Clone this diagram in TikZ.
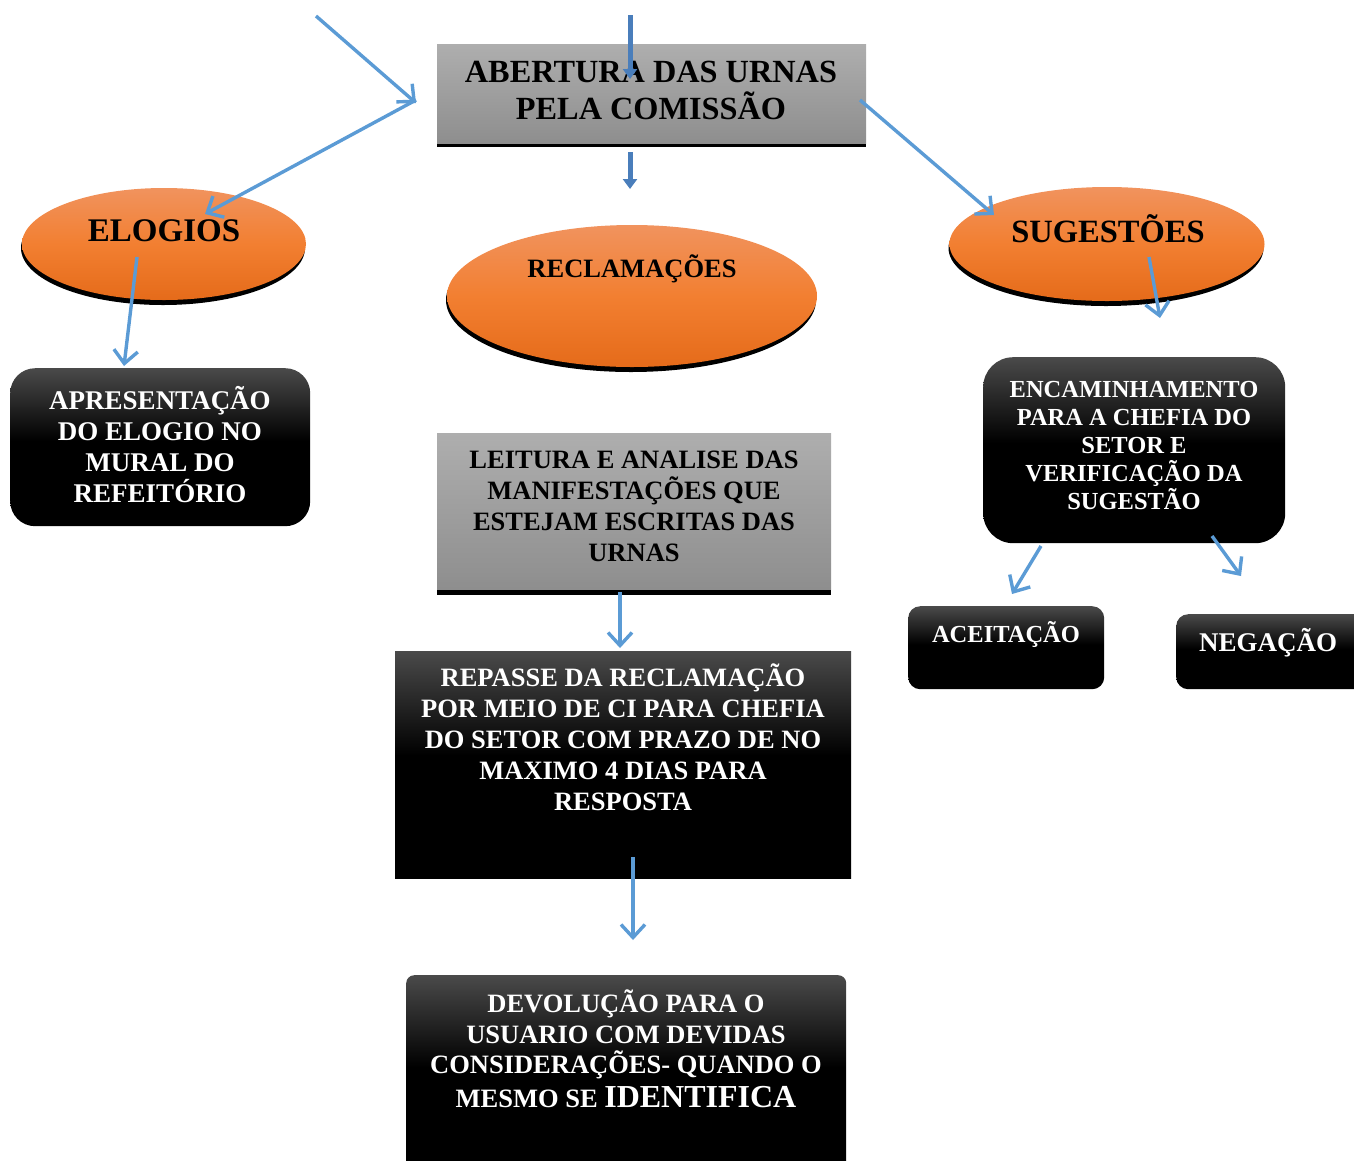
\documentclass[tikz,border=0pt]{standalone}
\usepackage{fontspec}
\setmainfont{Liberation Serif}
\usetikzlibrary{shapes.geometric,arrows.meta}
\definecolor{arrblue}{HTML}{5B9BD5}
\definecolor{blkarr}{HTML}{4A7EBB}
\definecolor{orTop}{HTML}{F1935E}
\definecolor{orMid}{HTML}{F27F31}
\definecolor{orBot}{HTML}{E56B1A}
\definecolor{grTop}{HTML}{AEAEAE}
\definecolor{grBot}{HTML}{8E8E8E}
\definecolor{dk}{HTML}{4A4A4A}
\pgfdeclareverticalshading{darkshade}{100bp}{color(0bp)=(black); color(25bp)=(black); color(52bp)=(black); color(75bp)=(dk); color(100bp)=(dk)}
\begin{document}
\begin{tikzpicture}[x=1pt,y=-1pt,
  graybox/.style={rectangle, anchor=north west, inner sep=0pt, top color=grTop, bottom color=grBot},
  orell/.style={ellipse, inner sep=0pt, top color=orTop, bottom color=orBot, middle color=orMid},
  shadowell/.style={ellipse, inner sep=0pt, fill=black},
  darkbox/.style={rectangle, anchor=north west, inner sep=0pt, shading=darkshade},
  wtxt/.style={text=white, align=center, font=\bfseries\fontsize{27}{31}\selectfont},
  btxt/.style={text=black, align=center, font=\bfseries\fontsize{27}{31}\selectfont},
  arr/.style={draw=arrblue, line width=3.4pt, -{Straight Barb[length=13pt,width=24pt]}},
  blockarr/.style={draw=blkarr, line width=5pt, -{Triangle[length=10pt,width=14pt]}},
]
\useasboundingbox (0,0) rectangle (1354,1160);

% top gray box
\fill[black] (437,140) rectangle (866,147);
\node[graybox, minimum width=429pt, minimum height=99pt] (abert) at (437,44) {};
\node[btxt, font=\bfseries\fontsize{32.3}{37}\selectfont] (abertt) at (651,90) {ABERTURA DAS URNAS\\PELA COMISSÃO};

% ellipses
\node[shadowell, minimum width=284pt, minimum height=114pt] (elogsh) at (163,248) {};
\node[orell, minimum width=284pt, minimum height=112pt] (elog) at (164,244) {};
\node[btxt, font=\bfseries\fontsize{33}{38}\selectfont] (elogt) at (164,231) {ELOGIOS};

\node[shadowell, minimum width=370pt, minimum height=144pt] (reclsh) at (631,300) {};
\node[orell, minimum width=370pt, minimum height=142pt] (recl) at (632,296) {};
\node[btxt, font=\bfseries\fontsize{26.5}{29}\selectfont] (reclt) at (632,269) {RECLAMAÇÕES};

\node[shadowell, minimum width=315pt, minimum height=116pt] (sugsh) at (1106,248) {};
\node[orell, minimum width=315pt, minimum height=114pt] (sug) at (1107,244) {};
\node[btxt, font=\bfseries\fontsize{32.5}{38}\selectfont] (sugt) at (1108,229) {SUGESTÕES};

% left dark box
\node[darkbox, rounded corners=25pt, minimum width=300pt, minimum height=158pt] (apres) at (10,368) {};
\node[wtxt] (apret) at (160,445) {APRESENTAÇÃO\\DO ELOGIO NO\\MURAL DO\\REFEITÓRIO};

% right dark box
\node[darkbox, rounded corners=30pt, minimum width=302pt, minimum height=186pt] (enc) at (983,357) {};
\node[wtxt, font=\bfseries\fontsize{24.5}{28}\selectfont] (enct) at (1134,445) {ENCAMINHAMENTO\\PARA A CHEFIA DO\\SETOR E\\VERIFICAÇÃO DA\\SUGESTÃO};

\node[darkbox, rounded corners=12pt, minimum width=196pt, minimum height=83pt] (acei) at (908,606) {};
\node[wtxt, font=\bfseries\fontsize{24.5}{28}\selectfont] (aceit) at (1006,634) {ACEITAÇÃO};

\node[darkbox, rounded corners=12pt, minimum width=200pt, minimum height=75pt] (neg) at (1176,614) {};
\node[wtxt] (negt) at (1268,643) {NEGAÇÃO};

% middle gray box
\fill[black] (437,589) rectangle (831,595);
\node[graybox, minimum width=394pt, minimum height=156pt] (leit) at (437,433) {};
\node[btxt, font=\bfseries\fontsize{26.5}{31}\selectfont] (leitt) at (634,506) {LEITURA E ANALISE DAS\\MANIFESTAÇÕES QUE\\ESTEJAM ESCRITAS DAS\\URNAS};

% repasse box
\node[darkbox, minimum width=456pt, minimum height=227pt] (rep) at (395,651) {};
\node[wtxt, font=\bfseries\fontsize{26.5}{31}\selectfont] (rept) at (623,737) {REPASSE DA RECLAMAÇÃO\\POR MEIO DE CI PARA CHEFIA\\DO SETOR COM PRAZO DE NO\\MAXIMO 4 DIAS PARA\\RESPOSTA};

% devolucao box
\node[darkbox, rounded corners=8pt, minimum width=440pt, minimum height=200pt] (dev) at (406,975) {};
\node[wtxt, font=\bfseries\fontsize{26.5}{30.5}\selectfont] (devt) at (626,1049) {DEVOLUÇÃO PARA O\\USUARIO COM DEVIDAS\\CONSIDERAÇÕES- QUANDO O\\[3pt]MESMO SE {\fontsize{32}{31}\selectfont IDENTIFICA}};

% arrow end points
\coordinate (p1s) at (316,16);
\coordinate (p1e) at (416,103);
\coordinate (p2s) at (416,100);
\coordinate (p2e) at (205,214);
\coordinate (p3s) at (860,100);
\coordinate (p3e) at (994,215);
\coordinate (p4s) at (137,257);
\coordinate (p4e) at (124,366);
\coordinate (p5s) at (1149,257);
\coordinate (p5e) at (1160,318);
\coordinate (p6s) at (1041,546);
\coordinate (p6e) at (1012,594);
\coordinate (p7s) at (1212,536);
\coordinate (p7e) at (1241,576);
\coordinate (p8s) at (620,592);
\coordinate (p8e) at (620,648);
\coordinate (p9s) at (633,857);
\coordinate (p9e) at (633,940);
\coordinate (b1s) at (630,15);
\coordinate (b1e) at (630,79);
\coordinate (b2s) at (630,152);
\coordinate (b2e) at (630,189);

\draw[arr] (p1s) -- (p1e);
\draw[arr] (p2s) -- (p2e);
\draw[arr] (p3s) -- (p3e);
\draw[arr] (p4s) -- (p4e);
\draw[arr] (p5s) -- (p5e);
\draw[arr] (p6s) -- (p6e);
\draw[arr] (p7s) -- (p7e);
\draw[arr] (p8s) -- (p8e);
\draw[arr] (p9s) -- (p9e);
\draw[blockarr] (b1s) -- (b1e);
\draw[blockarr] (b2s) -- (b2e);
\end{tikzpicture}
\end{document}
